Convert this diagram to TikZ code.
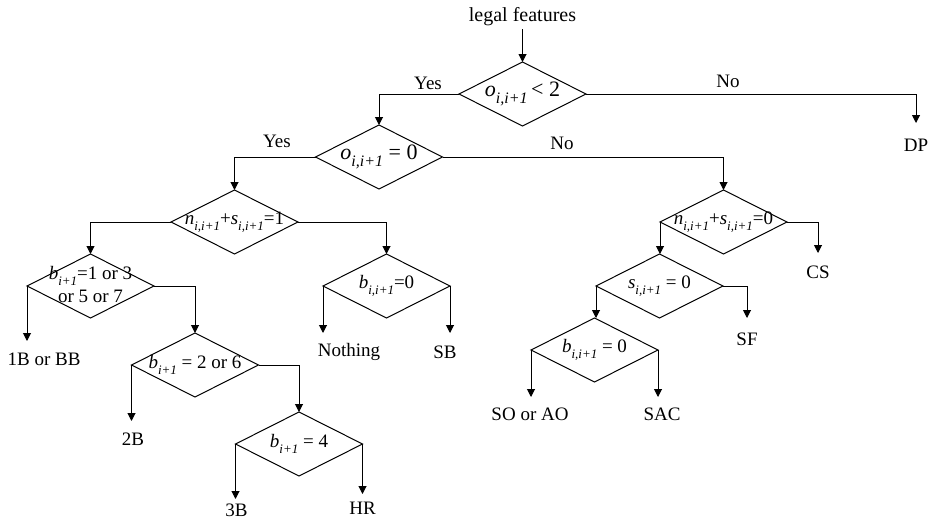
\documentclass[tikz,border=0pt]{standalone}
\usepackage{fontspec}
\setmainfont{Liberation Serif}
\usetikzlibrary{shapes.geometric,arrows.meta}
\newcommand\vsb[2]{\textit{#1}\raisebox{-0.32em}{\fontsize{13}{13}\selectfont\textit{#2}}}
\newcommand\vsbl[2]{\textit{#1}\raisebox{-0.3em}{\fontsize{16}{16}\selectfont\textit{#2}}}
\begin{document}
\begin{tikzpicture}[x=1pt,y=1pt,
  every node/.style={font=\fontsize{19}{23}\selectfont},
  dec/.style={diamond, draw, line width=1pt, minimum width=127pt, minimum height=64pt,
    inner sep=0pt, outer sep=0pt},
  leaf/.style={anchor=north, inner xsep=0pt, text height=13pt, text depth=4pt},
  conn/.style={line width=1pt, -{Triangle[length=8pt,width=8pt]}},
  lbl/.style={inner sep=0pt}]
\useasboundingbox (0,0) rectangle (931,-522);

% decisions
\node[dec] (d1) at (522.5,-94) {\makebox[0pt]{\fontsize{22}{26}\selectfont\vsbl{o}{i,i+1}\,< 2}};
\node[dec] (d2) at (379,-157) {\makebox[0pt]{\fontsize{22}{26}\selectfont\vsbl{o}{i,i+1} = 0}};
\node[dec] (d3) at (234.5,-222) {\makebox[0pt]{\vsb{n}{i,i+1}+\vsb{s}{i,i+1}=1}};
\node[dec] (d4) at (723.5,-222) {\makebox[0pt]{\vsb{n}{i,i+1}+\vsb{s}{i,i+1}=0}};
\node[dec] (d5) at (90.5,-286) {\makebox[0pt]{\begin{tabular}{@{}c@{}}\vsb{b}{i+1}=1 or 3\\ or 5 or 7\end{tabular}}};
\node[dec] (d6) at (386.5,-286) {\makebox[0pt]{\vsb{b}{i,i+1}=0}};
\node[dec] (d7) at (659.5,-286) {\makebox[0pt]{\vsb{s}{i,i+1} = 0}};
\node[dec] (d8) at (594.5,-350) {\makebox[0pt]{\vsb{b}{i,i+1} = 0}};
\node[dec] (d9) at (195,-365) {\makebox[0pt]{\vsb{b}{i+1} = 2 or 6}};
\node[dec] (d10) at (299,-444) {\makebox[0pt]{\vsb{b}{i+1} = 4}};

% start and leaves
\node[font=\fontsize{20}{24}\selectfont] (start) at (522.5,-16.5) {legal features};
\node[leaf, inner ysep=15pt] (dp) at (916,-123) {DP};
\node[leaf, inner ysep=11pt] (l1) at (44,-341) {1B or BB};
\node[leaf, inner ysep=10pt] (nothing) at (349,-333) {Nothing};
\node[leaf, inner ysep=12pt] (sb) at (445,-333) {SB};
\node[leaf, inner ysep=12pt] (cs) at (818,-253) {CS};
\node[leaf, inner ysep=14pt] (sf) at (747,-318) {SF};
\node[leaf, inner ysep=10pt] (soao) at (530,-397) {SO or AO};
\node[leaf, inner ysep=10pt] (sac) at (662,-397) {SAC};
\node[leaf, inner ysep=11pt] (b2) at (133,-421) {2B};
\node[leaf, inner ysep=4pt] (b3) at (236.5,-499) {3B};
\node[leaf, inner ysep=7pt] (hr) at (362.5,-494) {HR};

% branch labels
\node[lbl] (y1) at (428,-83) {Yes};
\node[lbl] (n1) at (728,-81) {No};
\node[lbl] (y2) at (277,-141) {Yes};
\node[lbl] (n2) at (562,-143) {No};

% connectors
\draw[conn] (start.south) -- (d1.north);
\draw[conn] (d1.west) -| (d2.north);
\draw[conn] (d1.east) -| (dp.north);
\draw[conn] (d2.west) -| (d3.north);
\draw[conn] (d2.east) -| (d4.north);
\draw[conn] (d3.west) -| (d5.north);
\draw[conn] (d3.east) -| (d6.north);
\draw[conn] (d4.east) -| (cs.north);
\draw[conn] (d4.west) -- (d4.west |- d7.north);
\draw[conn] (d7.east) -| (sf.north);
\draw[conn] (d7.west) -- (d7.west |- d8.north);
\draw[conn] (d8.west) -- (d8.west |- soao.north);
\draw[conn] (d8.east) -- (d8.east |- sac.north);
\draw[conn] (d5.west) -- (d5.west |- l1.north);
\draw[conn] (d5.east) -| (d9.north);
\draw[conn] (d6.west) -- (d6.west |- nothing.north);
\draw[conn] (d6.east) -- (d6.east |- sb.north);
\draw[conn] (d9.west) -- (d9.west |- b2.north);
\draw[conn] (d9.east) -| (d10.north);
\draw[conn] (d10.west) -- (d10.west |- b3.north);
\draw[conn] (d10.east) -- (d10.east |- hr.north);
\end{tikzpicture}
\end{document}
